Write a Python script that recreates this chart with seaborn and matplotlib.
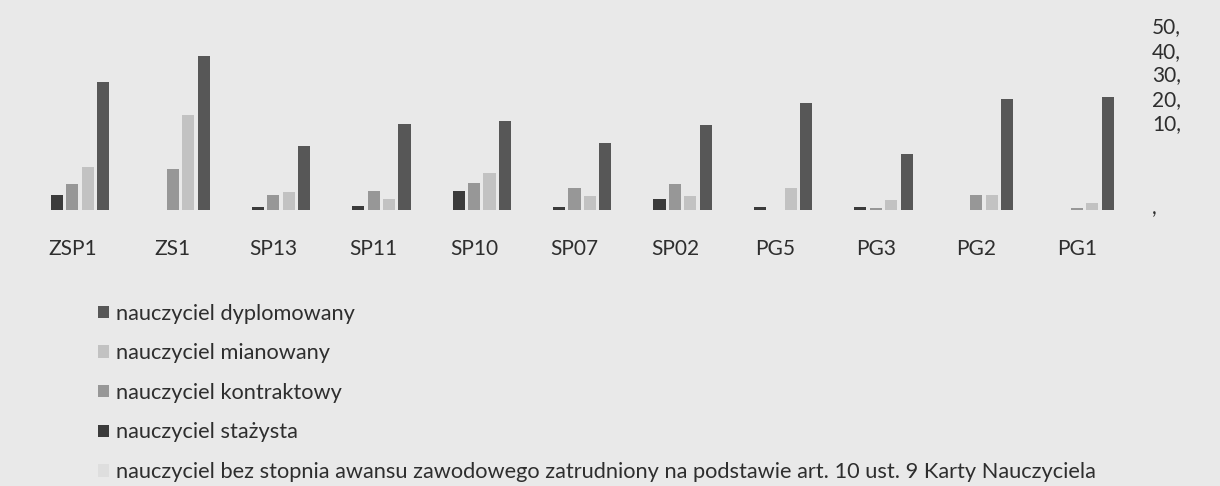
import pandas as pd
import matplotlib
matplotlib.use("Agg")
import matplotlib.pyplot as plt
import seaborn as sns

# schools (x categories)
schools = ["ZSP1", "ZS1", "SP13", "SP11", "SP10", "SP07", "SP02", "PG5", "PG3", "PG2", "PG1"]

# teachers by professional grade
bez_stopnia = [0, 0, 0, 0, 0, 0, 0, 0, 0, 0, 0]
stazysta = [4.0, 0, 0.9, 1.0, 5.2, 0.9, 2.9, 0.9, 0.7, 0, 0]
kontraktowy = [7.0, 11.0, 3.9, 5.1, 7.1, 6.0, 7.0, 0, 0.5, 3.9, 0.5]
mianowany = [11.6, 25.4, 4.8, 2.9, 10.0, 3.7, 3.7, 5.9, 2.7, 3.9, 1.8]
dyplomowany = [34.3, 41.2, 17.1, 22.9, 23.9, 18.0, 22.8, 28.6, 15.0, 29.8, 30.3]

series_names = [
    "nauczyciel bez stopnia awansu zawodowego zatrudniony na podstawie art. 10 ust. 9 Karty Nauczyciela",
    "nauczyciel stażysta",
    "nauczyciel kontraktowy",
    "nauczyciel mianowany",
    "nauczyciel dyplomowany",
]
series_colors = ["#dedede", "#3b3b3b", "#979797", "#c2c2c2", "#575757"]

# right axis labels as printed on the scan (the "0" of "0," is missing)
right_tick_labels = [",", "10,", "20,", "30,", "40,", "50,"]
# the printed scale on the scan is squeezed, so labels sit at these heights
right_tick_pos = [1.0, 23.5, 29.9, 36.6, 42.8, 49.5]

BG = "#e9e9e9"
TEXT = "#2e2e2e"

rows = []
for name, vals in zip(series_names, [bez_stopnia, stazysta, kontraktowy, mianowany, dyplomowany]):
    for school, v in zip(schools, vals):
        rows.append({"szkola": school, "stopien": name, "liczba": v})
df = pd.DataFrame(rows)

sns.set_style("white")
plt.rcParams["font.family"] = ["Lato", "DejaVu Sans"]

W, H = 1220, 486
fig = plt.figure(figsize=(W / 100, H / 100), dpi=100, facecolor=BG)

# axes placed in pixel terms of the reference
left_px, right_px = 22, 1127
base_px, top_px = 210, 23
ax = fig.add_axes([left_px / W, (H - base_px) / H, (right_px - left_px) / W, (base_px - top_px) / H])
ax.set_facecolor("none")

sns.barplot(
    data=df,
    x="szkola",
    y="liczba",
    hue="stopien",
    hue_order=series_names,
    palette=series_colors,
    order=schools,
    width=0.77,
    saturation=1,
    errorbar=None,
    ax=ax,
)

# leave thin gaps between neighbouring bars
for p in ax.patches:
    w = p.get_width()
    p.set_width(w * 0.78)
    p.set_x(p.get_x() + w * 0.11)
    p.set_linewidth(0)

ax.set_xlim(-0.5, len(schools) - 0.5)
ax.set_ylim(0, 50)
ax.set_xlabel("")
ax.set_ylabel("")

for s in ax.spines.values():
    s.set_visible(False)

ax.tick_params(axis="x", length=0, pad=21, labelsize=15, labelcolor=TEXT)
ax.yaxis.tick_right()
ax.set_yticks(right_tick_pos)
ax.set_yticklabels(right_tick_labels)
ax.tick_params(axis="y", length=0, pad=18, labelsize=15, labelcolor=TEXT)
for lbl in ax.get_yticklabels():
    lbl.set_horizontalalignment("left")

handles, labels = ax.get_legend_handles_labels()
ax.get_legend().remove()
fig.legend(
    handles[::-1],
    labels[::-1],
    loc="upper left",
    bbox_to_anchor=(78 / W, 1 - 284 / H),
    frameon=False,
    fontsize=15.7,
    labelcolor=TEXT,
    handlelength=0.5,
    handleheight=0.5,
    handletextpad=0.35,
    labelspacing=0.9,
)

fig.savefig("out.png", dpi=100, facecolor=BG)
